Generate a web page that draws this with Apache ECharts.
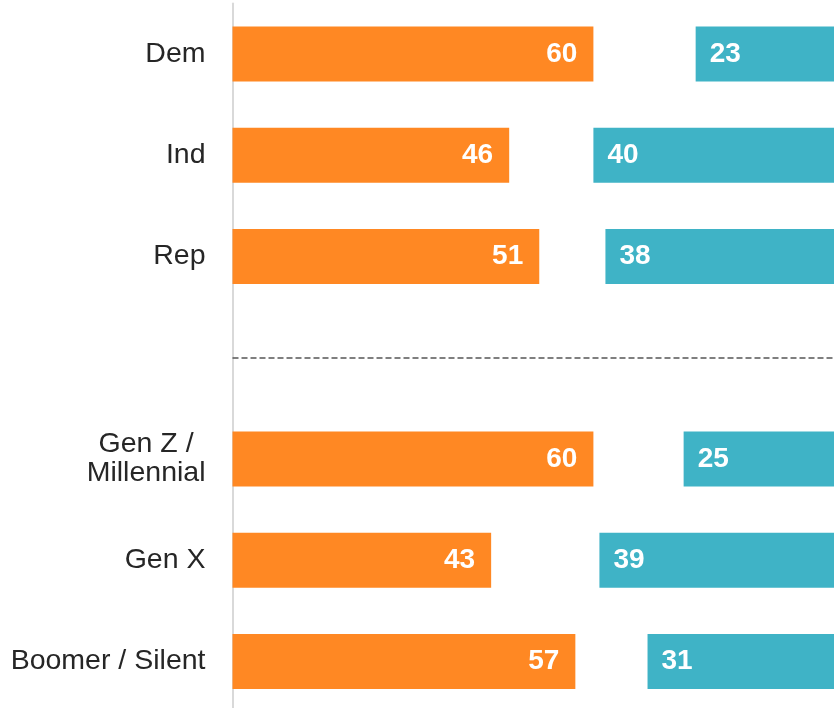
<!DOCTYPE html>
<html>
<head>
<meta charset="utf-8">
<script src="https://cdn.jsdelivr.net/npm/echarts@6/dist/echarts.min.js"></script>
<style>
html,body{margin:0;padding:0;background:#fff;}
#chart{width:836px;height:708px;}
</style>
</head>
<body>
<div id="chart"></div>
<script>
var categories = ['Dem', 'Ind', 'Rep', '', 'Gen Z /\nMillennial', 'Gen X', 'Boomer / Silent'];
var orangeValues = [60, 46, 51, null, 60, 43, 57];
var blueValues = [23, 40, 38, null, 25, 39, 31];
var scaleTotal = 100;

var gapValues = orangeValues.map(function (o, i) {
  if (o == null || blueValues[i] == null) return null;
  return scaleTotal - o - blueValues[i];
});

var FONT = 'Arial, "Liberation Sans", sans-serif';
var chart = echarts.init(document.getElementById('chart'), null, {renderer: 'canvas'});

chart.setOption({
  backgroundColor: '#ffffff',
  animation: false,
  grid: {left: 232.5, right: 2, top: 3.5, height: 708.5, outerBoundsMode: 'none', containLabel: false},
  xAxis: {
    type: 'value', min: 0, max: scaleTotal,
    show: false
  },
  yAxis: {
    type: 'category',
    data: categories,
    inverse: true,
    axisLine: {show: true, lineStyle: {color: '#d9d9d9', width: 2}},
    axisTick: {show: false},
    splitLine: {show: false},
    axisLabel: {
      fontFamily: FONT,
      fontSize: 28.5,
      color: '#262626',
      margin: 27,
      lineHeight: 29,
      formatter: function (v) {
        if (v.indexOf('\n') >= 0) {
          return v.split('\n').map(function (s) { return '{c|' + s + '}'; }).join('\n');
        }
        return v;
      },
      rich: {
        c: {align: 'center', fontFamily: FONT, fontSize: 28.5, color: '#262626', lineHeight: 29}
      }
    }
  },
  series: [
    {
      type: 'bar', stack: 's', data: orangeValues, barWidth: 55,
      itemStyle: {color: '#FF8823'},
      label: {
        show: true, position: 'insideRight', distance: 16,
        color: '#fff', fontWeight: 'bold', fontSize: 28, fontFamily: FONT
      },
      markLine: {
        silent: true, symbol: 'none',
        label: {show: false},
        lineStyle: {color: '#555555', type: [6, 3], width: 1.5},
        data: [{yAxis: 3}]
      }
    },
    {
      type: 'bar', stack: 's', data: gapValues, barWidth: 55,
      itemStyle: {color: 'rgba(0,0,0,0)'},
      label: {show: false}, silent: true
    },
    {
      type: 'bar', stack: 's', data: blueValues, barWidth: 55,
      itemStyle: {color: '#3FB3C6'},
      label: {
        show: true, position: 'insideLeft', distance: 14,
        color: '#fff', fontWeight: 'bold', fontSize: 28, fontFamily: FONT
      }
    }
  ]
});
</script>
</body>
</html>
